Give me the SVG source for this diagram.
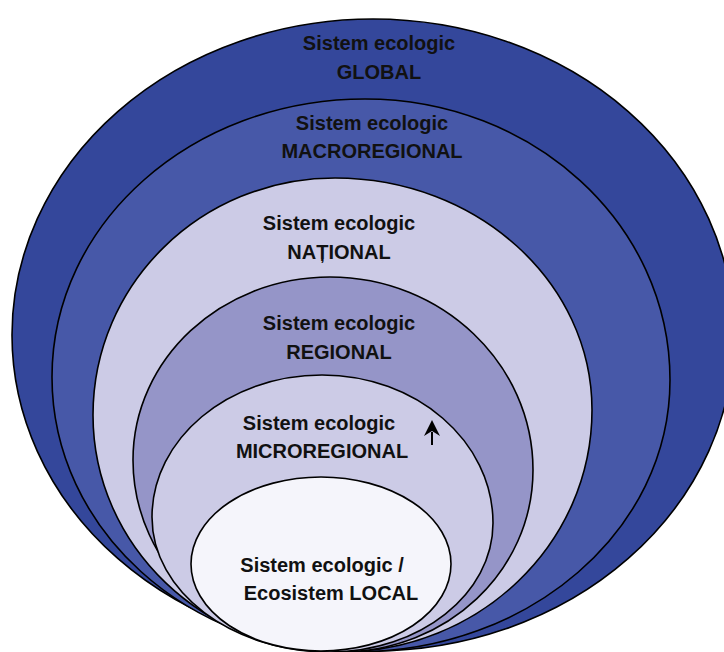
<svg xmlns="http://www.w3.org/2000/svg" width="724" height="652" viewBox="0 0 724 652">
<defs>
<style>
.sh{stroke:#000;stroke-width:1.6}
.t{font-family:"Liberation Sans",Arial,sans-serif;font-weight:bold;font-size:20px;fill:#111;text-anchor:middle}
</style>
<marker id="ah" viewBox="0 0 16 16" refX="4" refY="8" markerWidth="16" markerHeight="16" markerUnits="userSpaceOnUse" orient="auto">
<path d="M16 8 L0 0 L5 8 L0 16 Z" fill="#000"/>
</marker>
</defs>
<rect width="724" height="652" fill="#fff"/>
<g id="global">
<ellipse class="sh" cx="373" cy="335" rx="361" ry="316" fill="#34479b"/>
<text class="t" x="379" y="50">Sistem ecologic</text>
<text class="t" x="379" y="79">GLOBAL</text>
</g>
<g id="macroregional">
<path class="sh" fill="#4758a8" d="M52 377 C52 223 192 99 365 99 C532 99 670 223 670 380 C670 530 530 652 355 652 C188 652 52 529 52 377 Z"/>
<text class="t" x="372" y="130">Sistem ecologic</text>
<text class="t" x="372" y="158">MACROREGIONAL</text>
</g>
<g id="national">
<path class="sh" fill="#cccbe6" d="M93 415 C93 284 201 178 335 178 C477 178 592 282 592 410 C592 544 479 652 340 652 C204 652 93 546 93 415 Z"/>
<text class="t" x="339" y="230">Sistem ecologic</text>
<text class="t" x="339" y="259">NAȚIONAL</text>
</g>
<g id="regional">
<path class="sh" fill="#9595c8" d="M133 460 C133 359 221 277 330 277 C442 277 533 364 533 470 C533 571 447 652 340 652 C226 652 133 566 133 460 Z"/>
<text class="t" x="339" y="330">Sistem ecologic</text>
<text class="t" x="339" y="359">REGIONAL</text>
</g>
<g id="microregional">
<path class="sh" fill="#cccbe6" d="M152 517 C152 439 228 375 322 375 C416 375 493 441 493 523 C493 594 420 652 330 652 C232 652 152 592 152 517 Z"/>
<text class="t" x="319" y="430">Sistem ecologic</text>
<text class="t" x="322" y="458">MICROREGIONAL</text>
</g>
<g id="local">
<ellipse class="sh" cx="321" cy="564" rx="130" ry="87" fill="#f5f5fb"/>
<text class="t" x="322" y="572">Sistem ecologic /</text>
<text class="t" x="331" y="600">Ecosistem LOCAL</text>
</g>
<g id="connectors">
<line x1="432" y1="445" x2="432" y2="432" stroke="#000" stroke-width="2" marker-end="url(#ah)"/>
</g>
</svg>
